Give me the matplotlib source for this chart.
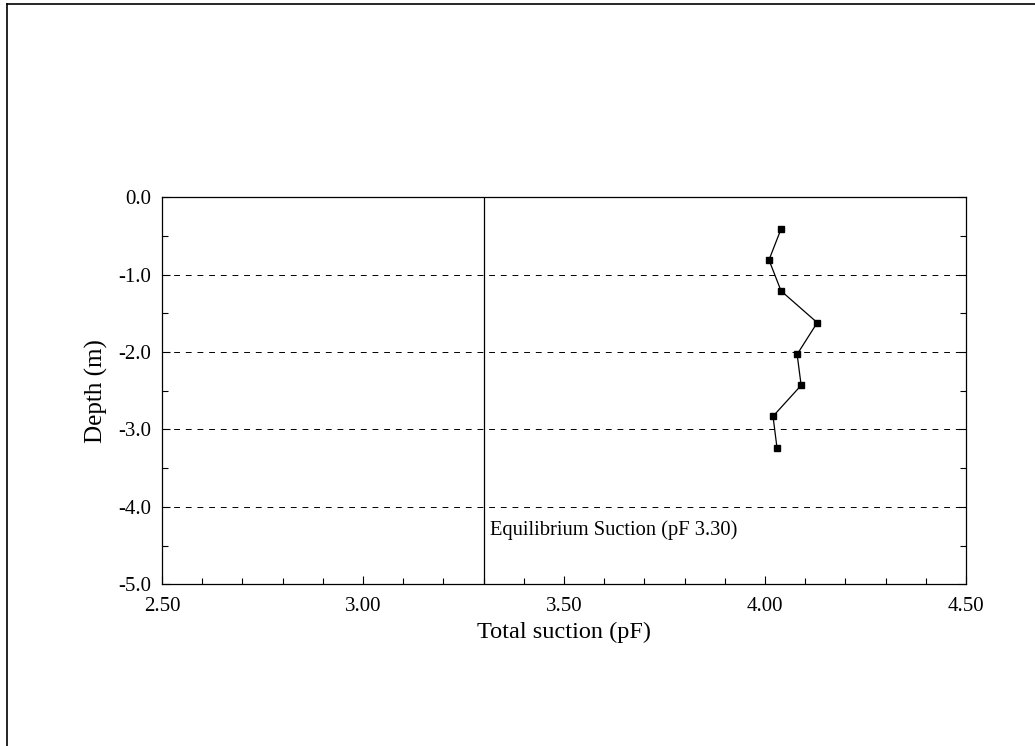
import matplotlib
matplotlib.use("Agg")
import matplotlib.pyplot as plt
from matplotlib.lines import Line2D
from matplotlib.ticker import MultipleLocator, FormatStrFormatter

plt.rcParams['font.family'] = ['Liberation Serif', 'DejaVu Serif']
plt.rcParams['axes.unicode_minus'] = False

suction = [4.04, 4.01, 4.04, 4.13, 4.08, 4.09, 4.02, 4.03]
depth = [-0.41, -0.81, -1.21, -1.62, -2.03, -2.43, -2.83, -3.24]
grid_depths = [-1.0, -2.0, -3.0, -4.0]
equilibrium = 3.30
eq_label = "Equilibrium Suction (pF 3.30)"

fig = plt.figure(figsize=(10.35, 7.46), dpi=100)
ax = fig.add_axes([0.1565, 0.2168, 0.7768, 0.5188])

for g in grid_depths:
    ax.axhline(g, color='black', lw=0.7, ls=(0, (6, 6)), zorder=1)
ax.axvline(equilibrium, color='black', lw=0.9, zorder=2)
ax.plot(suction, depth, color='black', lw=0.9, marker='s', ms=4.5, zorder=3)
ax.text(equilibrium + 0.017, -4.30, eq_label, fontsize=14.8, va='center', ha='left')

ax.set_xlim(2.5, 4.5)
ax.set_ylim(-5.0, 0.0)
ax.xaxis.set_major_locator(MultipleLocator(0.5))
ax.xaxis.set_minor_locator(MultipleLocator(0.1))
ax.yaxis.set_major_locator(MultipleLocator(1.0))
ax.yaxis.set_minor_locator(MultipleLocator(0.5))
ax.xaxis.set_major_formatter(FormatStrFormatter('%.2f'))
ax.yaxis.set_major_formatter(FormatStrFormatter('%.1f'))
ax.tick_params(which='both', direction='in', right=True, top=False, labelsize=15, width=0.8)
ax.tick_params(which='major', length=6)
ax.tick_params(which='minor', length=4)
ax.tick_params(axis='x', which='major', pad=9)
ax.tick_params(axis='y', which='major', pad=8)
for s in ax.spines.values():
    s.set_linewidth(0.9)

ax.set_xlabel("Total suction (pF)", fontsize=17.5, labelpad=4)
ax.set_ylabel("Depth (m)", fontsize=18, labelpad=7)

fig.add_artist(Line2D([7/1035, 1.0], [1-4/746, 1-4/746], color='black', lw=1.2, transform=fig.transFigure))
fig.add_artist(Line2D([7/1035, 7/1035], [0.0, 1-4/746], color='black', lw=1.2, transform=fig.transFigure))

fig.savefig("out.png", dpi=100, facecolor='white')
